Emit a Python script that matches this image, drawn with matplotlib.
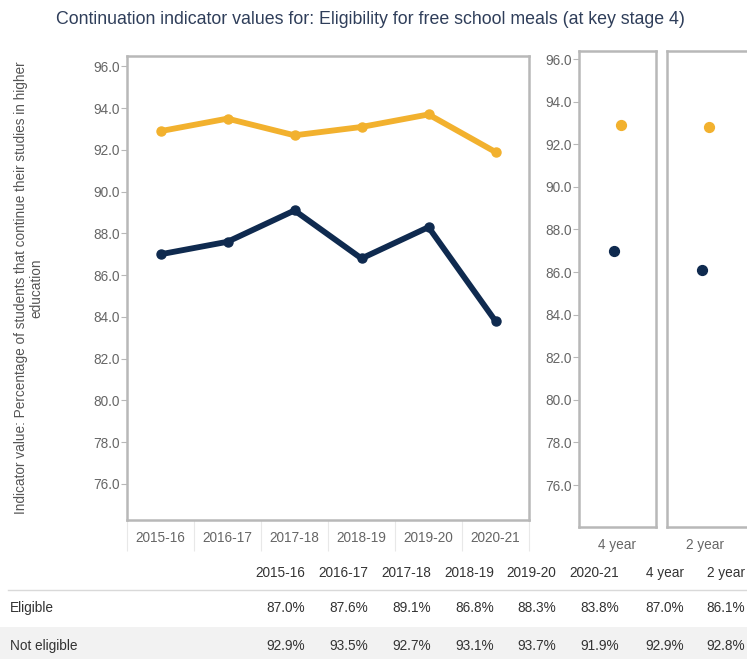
import matplotlib
matplotlib.use("Agg")
import matplotlib.pyplot as plt
import numpy as np

plt.rcParams['font.family'] = ['Liberation Sans', 'DejaVu Sans']

years = ["2015-16", "2016-17", "2017-18", "2018-19", "2019-20", "2020-21"]
eligible = [87.0, 87.6, 89.1, 86.8, 88.3, 83.8]
not_eligible = [92.9, 93.5, 92.7, 93.1, 93.7, 91.9]
avg_labels = ["4 year", "2 year"]
eligible_avg = [87.0, 86.1]
not_eligible_avg = [92.9, 92.8]
series_names = ["Eligible", "Not eligible"]
title = "Continuation indicator values for: Eligibility for free school meals (at key stage 4)"
ylabel = "Indicator value: Percentage of students that continue their studies in higher\neducation"
yticks = [76, 78, 80, 82, 84, 86, 88, 90, 92, 94, 96]

ORANGE = "#F2B12E"
NAVY = "#0F2A4F"
SPINE = "#b8b8b8"
TICKC = "#666666"

W, H = 747, 659
fig = plt.figure(figsize=(W / 100, H / 100), dpi=100)

def fx(px):
    return px / W

def fy(py):
    return 1 - py / H

def style_axes(ax, ylim):
    ax.set_ylim(*ylim)
    ax.set_yticks(yticks)
    ax.set_yticklabels([f"{v:.1f}" for v in yticks])
    for s in ax.spines.values():
        s.set_color(SPINE)
        s.set_linewidth(1.8)
    ax.tick_params(axis='y', colors=SPINE, labelcolor=TICKC, labelsize=9.8, length=4, width=0.8, pad=1)
    ax.tick_params(axis='x', length=0, labelcolor=TICKC, labelsize=9.8, pad=8)

# Main axes
ax = fig.add_axes([fx(127), fy(520), fx(529 - 127), fy(56) - fy(520)])
x = np.arange(len(years))
ax.plot(x, not_eligible, color=ORANGE, lw=4.2, marker='o', ms=6.5, solid_joinstyle='round', solid_capstyle='round')
ax.plot(x, eligible, color=NAVY, lw=4.2, marker='o', ms=6.5, solid_joinstyle='round', solid_capstyle='round')
ax.set_xlim(-0.5, len(years) - 0.5)
style_axes(ax, (74.27, 96.5))
ax.set_xticks(x)
ax.set_xticklabels(years)
ax.set_xticks(np.arange(len(years) + 1) - 0.5, minor=True)
ax.tick_params(axis='x', which='minor', length=22, color="#e8e8e8", width=0.8)
ax.set_ylabel(ylabel, fontsize=9.8, color="#555555", labelpad=36, linespacing=1.1)

# Side panels
panel_lefts = [579, 667]
panel_widths = [77, 90]
dodge = [-0.05, 0.05]
for i, lab in enumerate(avg_labels):
    pw = panel_widths[i]
    a = fig.add_axes([fx(panel_lefts[i]), fy(527), fx(pw), fy(51) - fy(527)])
    a.scatter([dodge[0]], [eligible_avg[i]], s=50, color=NAVY, zorder=3)
    a.scatter([dodge[1]], [not_eligible_avg[i]], s=50, color=ORANGE, zorder=3)
    a.set_xlim(-0.5, -0.5 + pw / 77)
    style_axes(a, (74.03, 96.38))
    a.set_xticks([0])
    a.set_xticklabels([lab])
    if i > 0:
        a.tick_params(axis='y', length=0, labelleft=False)

# Title
fig.text(fx(370), fy(20), title, ha='center', va='center', fontsize=12.8, color="#2f3e5a")

# Table
col_right = [305, 368, 431, 494, 556, 619, 684, 745]
headers = years + avg_labels
rows = [eligible + eligible_avg, not_eligible + not_eligible_avg]
fig.patches.append(plt.Rectangle((0, fy(659)), 1, fy(627) - fy(659), transform=fig.transFigure,
                                 facecolor="#f2f2f2", edgecolor='none', zorder=0))
fig.add_artist(plt.Line2D([fx(8), 1], [fy(590), fy(590)], transform=fig.transFigure, color="#d9d9d9", lw=1))
for cx, h in zip(col_right, headers):
    fig.text(fx(cx), fy(573), h, ha='right', va='center', fontsize=9.8, color="#333333")
row_y = [608, 646]
for ry, name, vals in zip(row_y, series_names, rows):
    fig.text(fx(10), fy(ry), name, ha='left', va='center', fontsize=9.8, color="#333333")
    for cx, v in zip(col_right, vals):
        fig.text(fx(cx), fy(ry), f"{v:.1f}%", ha='right', va='center', fontsize=9.8, color="#333333")

fig.savefig("out.png", dpi=100)
